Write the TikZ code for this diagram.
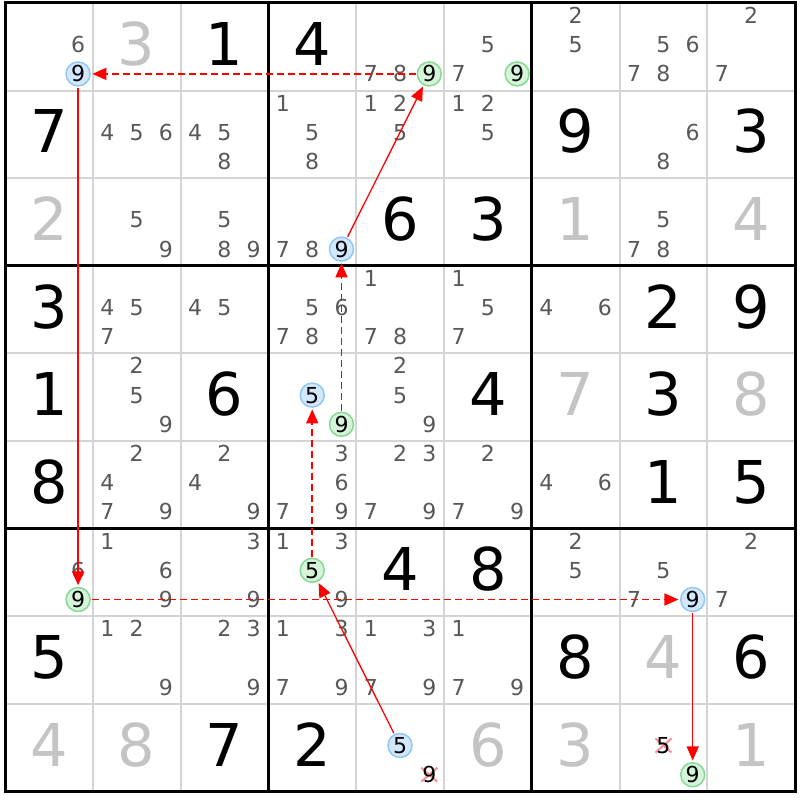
\documentclass[tikz,border=0pt]{standalone}
\usepackage{fontspec}
\setmainfont{DejaVu Sans}
\usetikzlibrary{arrows.meta}
\definecolor{candgray}{HTML}{585858}
\definecolor{solvedgray}{HTML}{C4C4C4}
\definecolor{gridgray}{HTML}{D4D4D4}
\definecolor{bluefill}{HTML}{D2E8FF}
\definecolor{blueline}{HTML}{92C6F4}
\definecolor{greenfill}{HTML}{D6F4DA}
\definecolor{greenline}{HTML}{84DA94}
\definecolor{arrowred}{HTML}{FF0000}
\definecolor{crossred}{HTML}{F4909A}
\newcommand\setcand[3]{%
  \pgfmathsetmacro\cx{4.92+(#2-1)*87.8+(mod(#3-1,3)+0.5)*29.27}%
  \pgfmathsetmacro\cy{3+(#1-1)*87.6+(floor((#3-1)/3)+0.5)*29.2-2.1}}
\newcommand\setbig[2]{%
  \pgfmathsetmacro\bx{5+(#2-0.5)*87.8}%
  \pgfmathsetmacro\by{3+(#1-0.5)*87.6-3}}
\begin{document}
\begin{tikzpicture}[x=1pt,y=-1pt,
  cand/.style={font=\fontsize{22}{22}\selectfont, text=candgray, inner sep=0pt, text height=16pt, text depth=0pt},
  hlcand/.style={cand, text=black, circle, minimum size=24pt, line width=1.5pt},
  bluehl/.style={hlcand, fill=bluefill, draw=blueline},
  greenhl/.style={hlcand, fill=greenfill, draw=greenline},
  crossd/.style={cand, text=black},
  crossline/.style={draw=crossred, line width=2pt},
  big/.style={font=\fontsize{59}{59}\selectfont, inner sep=0pt, text height=43pt, text depth=0pt},
  given/.style={big, text=black},
  solved/.style={big, text=solvedgray},
  thingrid/.style={draw=gridgray, line width=2pt},
  thickgrid/.style={draw=black, line width=3pt},
  strong/.style={draw=arrowred, line width=1.3pt, -{Triangle[length=14pt,width=12pt]}, shorten >=1.5pt, shorten <=1pt},
  weak/.style={strong, line width=1.6pt, dash pattern=on 7pt off 4pt}
]
\useasboundingbox (0,0) rectangle (800,800);
\fill[white] (0,0) rectangle (800,800);
% grid
\foreach \i in {0,...,9} {
  \draw[thingrid] ({5+\i*87.8},3) -- ({5+\i*87.8},{3+9*87.6});
  \draw[thingrid] (5,{3+\i*87.6}) -- ({5+9*87.8},{3+\i*87.6});
}
\foreach \i in {3,6} {
  \draw[thickgrid] ({5+\i*87.8},3) -- ({5+\i*87.8},{3+9*87.6});
  \draw[thickgrid] (5,{3+\i*87.6}) -- ({5+9*87.8},{3+\i*87.6});
}
\draw[thickgrid] (5,3) rectangle ({5+9*87.8},{3+9*87.6});
% given digits
\foreach \r/\c/\d in {1/3/1,1/4/4,2/1/7,2/7/9,2/9/3,3/5/6,3/6/3,4/1/3,4/8/2,4/9/9,
  5/1/1,5/3/6,5/6/4,5/8/3,6/1/8,6/8/1,6/9/5,7/5/4,7/6/8,8/1/5,8/7/8,8/9/6,9/3/7,9/4/2} {
  \setbig{\r}{\c}
  \node[given] (g\r\c) at (\bx,\by) {\d};
}
% solved digits
\foreach \r/\c/\d in {1/2/3,3/1/2,3/7/1,3/9/4,5/7/7,5/9/8,8/8/4,9/1/4,9/2/8,9/6/6,9/7/3,9/9/1} {
  \setbig{\r}{\c}
  \node[solved] (s\r\c) at (\bx,\by) {\d};
}
% plain candidates
\foreach \r/\c/\L in {1/1/{6},1/5/{7,8},1/6/{5,7},1/7/{2,5},1/8/{5,6,7,8},1/9/{2,7},
  2/2/{4,5,6},2/3/{4,5,8},2/4/{1,5,8},2/5/{1,2,5},2/6/{1,2,5},2/8/{6,8},
  3/2/{5,9},3/3/{5,8,9},3/4/{7,8},3/8/{5,7,8},
  4/2/{4,5,7},4/3/{4,5},4/4/{5,6,7,8},4/5/{1,7,8},4/6/{1,5,7},4/7/{4,6},
  5/2/{2,5,9},5/5/{2,5,9},
  6/2/{2,4,7,9},6/3/{2,4,9},6/4/{3,6,7,9},6/5/{2,3,7,9},6/6/{2,7,9},6/7/{4,6},
  7/1/{6},7/2/{1,6,9},7/3/{3,9},7/4/{1,3,9},7/7/{2,5},7/8/{5,7},7/9/{2,7},
  8/2/{1,2,9},8/3/{2,3,9},8/4/{1,3,7,9},8/5/{1,3,7,9},8/6/{1,7,9}} {
  \foreach \d in \L {
    \setcand{\r}{\c}{\d}
    \node[cand] (k\r\c\d) at (\cx,\cy) {\d};
  }
}
% crossed-out candidates
\foreach \r/\c/\d in {9/5/9,9/8/5} {
  \setcand{\r}{\c}{\d}
  \draw[crossline] ({\cx-8},{\cy-7}) -- ({\cx+8},{\cy+7});
  \draw[crossline] ({\cx-8},{\cy+7}) -- ({\cx+8},{\cy-7});
  \node[crossd] (x\r\c\d) at (\cx,\cy) {\d};
}
% highlighted candidates
\setcand{1}{1}{9} \node[bluehl] (hA) at (\cx,\cy) {9};
\setcand{1}{5}{9} \node[greenhl] (hB) at (\cx,\cy) {9};
\setcand{1}{6}{9} \node[greenhl] (hC) at (\cx,\cy) {9};
\setcand{3}{4}{9} \node[bluehl] (hD) at (\cx,\cy) {9};
\setcand{5}{4}{5} \node[bluehl] (hE) at (\cx,\cy) {5};
\setcand{5}{4}{9} \node[greenhl] (hF) at (\cx,\cy) {9};
\setcand{7}{1}{9} \node[greenhl] (hG) at (\cx,\cy) {9};
\setcand{7}{4}{5} \node[greenhl] (hH) at (\cx,\cy) {5};
\setcand{7}{8}{9} \node[bluehl] (hI) at (\cx,\cy) {9};
\setcand{9}{5}{5} \node[bluehl] (hJ) at (\cx,\cy) {5};
\setcand{9}{8}{9} \node[greenhl] (hK) at (\cx,\cy) {9};
% chains
\draw[weak] (hB) -- (hA);
\draw[strong] (hA) -- (hG);
\draw[weak] (hG) -- (hI);
\draw[strong] (hI) -- (hK);
\draw[strong] (hJ) -- (hH);
\draw[weak] (hH) -- (hE);
\draw[weak] (hF) -- (hD);
\draw[strong] (hD) -- (hB);
\end{tikzpicture}
\end{document}
